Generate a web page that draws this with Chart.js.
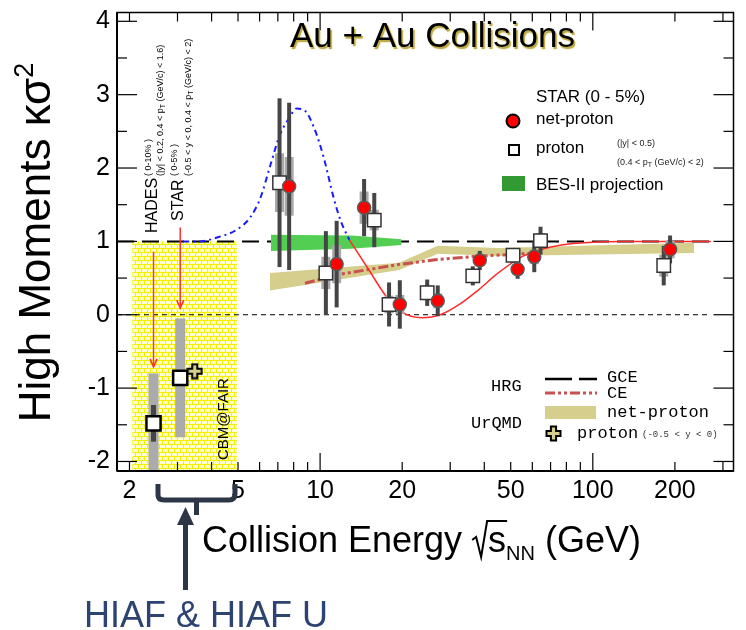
<!DOCTYPE html>
<html>
<head>
<meta charset="utf-8">
<title>High Moments vs Collision Energy</title>
<script src="https://cdn.jsdelivr.net/npm/chart.js@4.4.1/dist/chart.umd.min.js"></script>
<style>
  html, body { margin: 0; padding: 0; background: #fff; }
  canvas { display: block; }
</style>
</head>
<body>
<canvas id="chart" width="746" height="630"></canvas>
<script>
// values
const xTickLabels = [2, 5, 10, 20, 50, 100, 200]
const yTickLabels = [-2, -1, 0, 1, 2, 3, 4]
const xMajorTicks = [10, 100]
const xMinorTicks = [2, 3, 4, 5, 6, 7, 8, 9, 20, 30, 40, 50, 60, 70, 80, 90, 200, 300]
const yMinorTicks = [-1.5, -0.5, 0.5, 1.5, 2.5, 3.5]

// STAR net-proton (0-5%)
const netProtonEnergy = [7.7, 11.5, 14.5, 19.6, 27, 38.5, 53, 61, 192]
const netProtonK = [1.75, 0.69, 1.46, 0.14, 0.19, 0.74, 0.62, 0.79, 0.89]
const netProtonStat = [1.14, 0.59, 0.39, 0.33, 0.21, 0.13, 0.13, 0.21, 0.19]
const netProtonSys = [0.40, 0.26, 0.22, 0.13, 0.10, 0.07, 0.07, 0.10, 0.12]

// STAR proton
const protonEnergy = [7.1, 10.5, 15.8, 17.9, 24.7, 36.3, 51, 64.3, 182]
const protonK = [1.80, 0.57, 1.29, 0.14, 0.30, 0.53, 0.81, 1.01, 0.67]
const protonStat = [1.15, 0.57, 0.37, 0.30, 0.18, 0.13, 0.10, 0.19, 0.27]
const protonSys = [0.40, 0.22, 0.14, 0.12, 0.10, 0.08, 0.06, 0.10, 0.15]

// HADES 2.4 GeV and STAR 3 GeV proton
const fixedTargetEnergy = [2.45, 3.07]
const fixedTargetK = [-1.48, -0.86]
const fixedTargetStat = [0.25, 0.08]
const fixedTargetSys = [0.68, 0.81]

// UrQMD proton (-0.5 < y < 0)
const urqmdProtonEnergy = [3.47]
const urqmdProtonK = [-0.77]

// UrQMD net-proton band
const urqmdBandEnergy = [6.55, 19.5, 27, 45, 235]
const urqmdBandHigh = [0.57, 0.71, 0.94, 0.91, 0.98]
const urqmdBandLow = [0.33, 0.61, 0.83, 0.80, 0.84]

// BES-II projection band
const besEnergy = [6.6, 13, 19.9]
const besHigh = [1.09, 1.08, 1.03]
const besLow = [0.87, 0.90, 0.95]

// HRG GCE / CE
const gceEnergy = [1.8, 271]
const gceK = [1, 1]
const ceEnergy = [8.8, 11.8, 19, 26.5, 38, 50, 60]
const ceK = [0.43, 0.55, 0.68, 0.75, 0.80, 0.82, 0.84]

// model curves
const blueEnergy = [3.15, 3.6, 4.25, 4.9, 5.55, 6.05, 6.55, 7.1, 7.7, 8.2, 8.8, 9.5, 10.3, 11.2, 11.9, 12.8]
const blueK = [1.0, 1.0, 1.06, 1.15, 1.33, 1.6, 2.02, 2.44, 2.68, 2.81, 2.78, 2.55, 2.15, 1.6, 1.28, 1.02]
const redEnergy = [12.8, 15.1, 17.4, 19.9, 23.6, 27.6, 32.4, 38.1, 45, 55.5, 76.7, 131, 271]
const redK = [1.02, 0.61, 0.26, 0.04, -0.04, 0.0, 0.14, 0.34, 0.57, 0.80, 0.95, 1.0, 1.0]

const zeroEnergy = [1.8, 271]
const zeroK = [0, 0]

// CBM@FAIR region
const cbmRange = [2.05, 4.95]
const cbmTop = 1.0

const FONT = '"Liberation Sans", Arial, sans-serif'
const MONO = '"Liberation Mono", "Courier New", monospace'
const KHAKI = '#d6ce8c'

const pts = (xs, ys) => xs.map((x, i) => ({ x: x, y: ys[i] }))

function makeCross() {
  const c = document.createElement("canvas")
  c.width = 17
  c.height = 17
  const g = c.getContext("2d")
  const m = 8.5, a = 2.6, b = 7
  g.beginPath()
  g.moveTo(m - a, m - b); g.lineTo(m + a, m - b); g.lineTo(m + a, m - a); g.lineTo(m + b, m - a)
  g.lineTo(m + b, m + a); g.lineTo(m + a, m + a); g.lineTo(m + a, m + b); g.lineTo(m - a, m + b)
  g.lineTo(m - a, m + a); g.lineTo(m - b, m + a); g.lineTo(m - b, m - a); g.lineTo(m - a, m - a)
  g.closePath()
  g.fillStyle = KHAKI
  g.fill()
  g.lineWidth = 2
  g.strokeStyle = "#000"
  g.stroke()
  return c
}

function makeHatch() {
  const c = document.createElement("canvas")
  c.width = 12
  c.height = 8
  const g = c.getContext("2d")
  g.fillStyle = "#ffffc8"
  g.fillRect(0, 0, 12, 8)
  g.fillStyle = "#f4ee00"
  g.fillRect(0, 0, 12, 1)
  g.fillRect(0, 4, 12, 1)
  g.fillRect(0, 0, 1, 4)
  g.fillRect(6, 0, 1, 4)
  g.fillRect(3, 4, 1, 4)
  g.fillRect(9, 4, 1, 4)
  return c
}

const crossImg = makeCross()

// background: hatched CBM@FAIR region
const cbmRegion = {
  id: "cbmRegion",
  beforeDatasetsDraw(chart) {
    const { ctx, chartArea: a, scales: { x, y } } = chart
    const x0 = x.getPixelForValue(cbmRange[0])
    const x1 = x.getPixelForValue(cbmRange[1])
    const y0 = y.getPixelForValue(cbmTop)
    ctx.save()
    ctx.fillStyle = ctx.createPattern(makeHatch(), "repeat")
    ctx.fillRect(x0, y0, x1 - x0, a.bottom - y0)
    ctx.restore()
  },
}

// stat / sys error bars, drawn right before the first marker dataset
const errorBars = {
  id: "errorBars",
  beforeDatasetsDraw(chart) {
    chart.$barsDone = false
  },
  beforeDatasetDraw(chart, args) {
    if (chart.$barsDone || !chart.data.datasets[args.index].stat) return
    chart.$barsDone = true
    const { ctx, chartArea: a, scales: { x, y } } = chart
    const withBars = chart.data.datasets.filter((d) => d.stat)
    ctx.save()
    ctx.beginPath()
    ctx.rect(a.left, a.top, a.width, a.height)
    ctx.clip()
    withBars.forEach((ds) => {
      ds.data.forEach((p, i) => {
        const cx = x.getPixelForValue(p.x)
        const t = y.getPixelForValue(p.y + ds.sys[i])
        const b = y.getPixelForValue(p.y - ds.sys[i])
        ctx.fillStyle = ds.sysColor
        ctx.fillRect(cx - ds.sysWidth / 2, t, ds.sysWidth, b - t)
      })
    })
    withBars.forEach((ds) => {
      ds.data.forEach((p, i) => {
        const cx = x.getPixelForValue(p.x)
        const t = y.getPixelForValue(p.y + ds.stat[i])
        const b = y.getPixelForValue(p.y - ds.stat[i])
        ctx.fillStyle = "#454545"
        ctx.fillRect(cx - ds.statWidth / 2, t, ds.statWidth, b - t)
      })
    })
    ctx.restore()
  },
}

function runs(ctx, segs, x, y) {
  let cx = x
  segs.forEach((s) => {
    ctx.font = s.f
    ctx.fillText(s.t, cx, y + (s.dy || 0))
    cx += ctx.measureText(s.t).width
  })
  return cx
}

function rotRuns(ctx, segs, x, y) {
  ctx.save()
  ctx.translate(x, y)
  ctx.rotate(-Math.PI / 2)
  runs(ctx, segs, 0, 0)
  ctx.restore()
}

function line(ctx, x0, y0, x1, y1) {
  ctx.beginPath()
  ctx.moveTo(x0, y0)
  ctx.lineTo(x1, y1)
  ctx.stroke()
}

// frame, inward ticks, annotations, legends and titles
const overlay = {
  id: "overlay",
  afterDraw(chart) {
    const { ctx, chartArea: a, scales: { x, y } } = chart
    ctx.save()
    ctx.textAlign = "left"
    ctx.textBaseline = "alphabetic"

    // red arrows and rotated labels for HADES / STAR
    const hx = x.getPixelForValue(fixedTargetEnergy[0])
    const sx = x.getPixelForValue(fixedTargetEnergy[1])
    ctx.strokeStyle = "#ff3030"
    ctx.lineWidth = 1.5
    ;[[hx, 0.86, -0.71], [sx, 1.19, 0.09]].forEach(([ax, k0, k1]) => {
      const y0 = y.getPixelForValue(k0)
      const y1 = y.getPixelForValue(k1)
      line(ctx, ax, y0, ax, y1)
      ctx.beginPath()
      ctx.moveTo(ax - 3.5, y1 - 8)
      ctx.lineTo(ax, y1)
      ctx.lineTo(ax + 3.5, y1 - 8)
      ctx.stroke()
    })
    ctx.fillStyle = "#000"
    const small = "9px " + FONT
    const tiny = "7px " + FONT
    rotRuns(ctx, [{ t: "HADES", f: "16px " + FONT }], hx + 3, 233)
    rotRuns(ctx, [{ t: "( 0-10% )", f: small }], hx - 3, 176)
    rotRuns(ctx, [
      { t: "(|y| < 0.2, 0.4 < p", f: small },
      { t: "T", f: tiny, dy: 2 },
      { t: " (GeV/c) < 1.6)", f: small },
    ], hx + 9, 176)
    rotRuns(ctx, [{ t: "STAR", f: "16px " + FONT }], sx + 3, 221)
    rotRuns(ctx, [{ t: "( 0-5% )", f: small }], sx - 3, 176)
    rotRuns(ctx, [
      { t: "(-0.5 < y < 0, 0.4 < p", f: small },
      { t: "T", f: tiny, dy: 2 },
      { t: " (GeV/c) < 2)", f: small },
    ], sx + 11, 176)
    rotRuns(ctx, [{ t: "CBM@FAIR", f: "15px " + FONT }], 228, 460)

    // frame and ticks
    ctx.strokeStyle = "#000"
    ctx.lineWidth = 1.5
    ctx.strokeRect(a.left, a.top, a.width, a.height)
    ctx.lineWidth = 2
    line(ctx, a.left, a.bottom, a.right, a.bottom)
    line(ctx, a.left, a.top, a.left, a.bottom)
    ctx.lineWidth = 1.2
    const xt = (v, len) => {
      const p = x.getPixelForValue(v)
      line(ctx, p, a.bottom, p, a.bottom - len)
      line(ctx, p, a.top, p, a.top + len)
    }
    const yt = (v, len) => {
      const p = y.getPixelForValue(v)
      line(ctx, a.left, p, a.left + len, p)
      line(ctx, a.right, p, a.right - len, p)
    }
    xMinorTicks.forEach((v) => xt(v, 9))
    xMajorTicks.forEach((v) => xt(v, 18))
    yMinorTicks.forEach((v) => yt(v, 10))
    yTickLabels.forEach((v) => yt(v, 20))

    // title
    ctx.font = "35px " + FONT
    ctx.save()
    ctx.fillStyle = "rgba(185,165,60,0.85)"
    ctx.shadowColor = "rgba(200,180,70,0.9)"
    ctx.shadowBlur = 2
    ctx.fillText("Au + Au Collisions", 291.5, 48.5)
    ctx.restore()
    ctx.fillStyle = "#000"
    ctx.fillText("Au + Au Collisions", 290, 47)

    // STAR legend
    ctx.font = "17px " + FONT
    ctx.fillText("STAR (0 - 5%)", 536, 102)
    ctx.beginPath()
    ctx.arc(513, 121, 6.5, 0, Math.PI * 2)
    ctx.fillStyle = "#ff0000"
    ctx.fill()
    ctx.lineWidth = 2
    ctx.strokeStyle = "#000"
    ctx.stroke()
    ctx.fillStyle = "#fff"
    ctx.fillRect(509, 145, 10, 10)
    ctx.strokeRect(509, 145, 10, 10)
    ctx.fillStyle = "#000"
    ctx.fillText("net-proton", 536, 124)
    ctx.fillText("proton", 536, 153)
    ctx.fillText("BES-II projection", 536, 190)
    ctx.fillStyle = "#339933"
    ctx.fillRect(502, 176, 23, 15)
    ctx.fillStyle = "#222"
    ctx.font = small
    ctx.fillText("(|y| < 0.5)", 617, 146)
    runs(ctx, [
      { t: "(0.4 < p", f: small },
      { t: "T", f: tiny, dy: 2 },
      { t: " (GeV/c) < 2)", f: small },
    ], 617, 165)

    // HRG / UrQMD legend
    ctx.fillStyle = "#000"
    ctx.font = "17px " + MONO
    ctx.fillText("HRG", 491, 391)
    ctx.fillText("UrQMD", 471, 428)
    ctx.fillText("GCE", 607, 382)
    ctx.fillText("CE", 607, 398)
    ctx.fillText("net-proton", 607, 417)
    ctx.fillText("proton", 577, 438)
    ctx.font = "9px " + MONO
    ctx.fillStyle = "#333"
    ctx.fillText("(-0.5 < y < 0)", 642, 437)
    ctx.strokeStyle = "#000"
    ctx.lineWidth = 2.5
    ctx.setLineDash([27, 7])
    line(ctx, 545, 379, 597, 379)
    ctx.strokeStyle = "#c8504f"
    ctx.lineWidth = 3
    ctx.setLineDash([10, 3, 3, 3, 3, 3])
    line(ctx, 545, 393, 597, 393)
    ctx.setLineDash([])
    ctx.fillStyle = KHAKI
    ctx.fillRect(545, 406, 51, 13)
    ctx.drawImage(crossImg, 545, 425)

    // axis titles
    ctx.fillStyle = "#000"
    ctx.font = "44px " + FONT
    const yTitle = "High Moments \u03ba\u03c3"
    const yw = ctx.measureText(yTitle).width + 14
    rotRuns(ctx, [
      { t: yTitle, f: "44px " + FONT },
      { t: "2", f: "27px " + FONT, dy: -17 },
    ], 50, 243 + yw / 2)

    const base = 552
    ctx.font = "36px " + FONT
    let cx = 202
    ctx.fillText("Collision Energy ", cx, base)
    cx += ctx.measureText("Collision Energy ").width
    const sw = ctx.measureText("s").width
    ctx.strokeStyle = "#000"
    ctx.lineWidth = 2
    ctx.beginPath()
    ctx.moveTo(cx, base - 12)
    ctx.lineTo(cx + 4, base - 15)
    ctx.lineTo(cx + 9, base + 5)
    ctx.lineTo(cx + 15, base - 31)
    ctx.lineTo(cx + 17 + sw, base - 31)
    ctx.stroke()
    cx += 16
    ctx.fillText("s", cx, base)
    cx += sw
    ctx.font = "20px " + FONT
    ctx.fillText("NN", cx, base + 8)
    cx += ctx.measureText("NN").width
    ctx.font = "36px " + FONT
    ctx.fillText(" (GeV)", cx, base)

    // bracket + arrow to HIAF
    ctx.strokeStyle = "#2c3646"
    ctx.fillStyle = "#2c3646"
    ctx.lineWidth = 5
    ctx.lineJoin = "round"
    ctx.beginPath()
    ctx.moveTo(158, 484)
    ctx.lineTo(158, 495)
    ctx.quadraticCurveTo(158, 500, 164, 500)
    ctx.lineTo(229, 500)
    ctx.quadraticCurveTo(235, 500, 235, 494)
    ctx.lineTo(235, 484)
    ctx.stroke()
    ctx.beginPath()
    ctx.moveTo(196.5, 500)
    ctx.lineTo(196.5, 515)
    ctx.stroke()
    ctx.beginPath()
    ctx.moveTo(185.5, 590)
    ctx.lineTo(185.5, 520)
    ctx.stroke()
    ctx.beginPath()
    ctx.moveTo(185.5, 507)
    ctx.lineTo(194, 525)
    ctx.lineTo(177, 525)
    ctx.closePath()
    ctx.fill()

    ctx.fillStyle = "#2d4371"
    ctx.font = "36px " + FONT
    ctx.fillText("HIAF & HIAF U", 84, 627)

    ctx.restore()
  },
}

const datasets = [
  {
    label: "net-proton",
    data: pts(netProtonEnergy, netProtonK),
    stat: netProtonStat,
    sys: netProtonSys,
    statWidth: 4,
    sysWidth: 9,
    sysColor: "#a8a8a8",
    showLine: false,
    pointStyle: "circle",
    pointRadius: 6.5,
    pointBackgroundColor: "#ff0000",
    pointBorderColor: "#5a5a5a",
    pointBorderWidth: 1.5,
    order: 1,
  },
  {
    label: "UrQMD proton",
    data: pts(urqmdProtonEnergy, urqmdProtonK),
    showLine: false,
    pointStyle: crossImg,
    order: 1,
  },
  {
    label: "proton",
    data: pts(protonEnergy, protonK),
    stat: protonStat,
    sys: protonSys,
    statWidth: 4,
    sysWidth: 9,
    sysColor: "#a8a8a8",
    showLine: false,
    pointStyle: "rect",
    pointRadius: 9.5,
    pointBackgroundColor: "#ffffff",
    pointBorderColor: "#333333",
    pointBorderWidth: 1.5,
    order: 2,
  },
  {
    label: "HADES / STAR FXT",
    data: pts(fixedTargetEnergy, fixedTargetK),
    stat: fixedTargetStat,
    sys: fixedTargetSys,
    statWidth: 5,
    sysWidth: 10,
    sysColor: "#ababab",
    showLine: false,
    pointStyle: "rect",
    pointRadius: 10,
    pointBackgroundColor: "#ffffff",
    pointBorderColor: "#000000",
    pointBorderWidth: 2.5,
    order: 2,
  },
  {
    label: "red model",
    data: pts(redEnergy, redK),
    borderColor: "#ff2a2a",
    borderWidth: 1.5,
    cubicInterpolationMode: "monotone",
    pointRadius: 0,
    order: 5,
  },
  {
    label: "blue model",
    data: pts(blueEnergy, blueK),
    borderColor: "#1a1aff",
    borderWidth: 2,
    borderDash: [6, 4, 2, 4],
    cubicInterpolationMode: "monotone",
    pointRadius: 0,
    order: 5,
  },
  {
    label: "HRG CE",
    data: pts(ceEnergy, ceK),
    borderColor: "#c8504f",
    borderWidth: 3,
    borderDash: [10, 3, 3, 3, 3, 3],
    pointRadius: 0,
    order: 6,
  },
  {
    label: "BES-II low",
    data: pts(besEnergy, besLow),
    borderWidth: 0,
    pointRadius: 0,
    order: 7,
  },
  {
    label: "BES-II projection",
    data: pts(besEnergy, besHigh),
    borderWidth: 0,
    pointRadius: 0,
    fill: "-1",
    backgroundColor: "#52cf52",
    order: 7,
  },
  {
    label: "UrQMD low",
    data: pts(urqmdBandEnergy, urqmdBandLow),
    borderWidth: 0,
    pointRadius: 0,
    order: 8,
  },
  {
    label: "UrQMD net-proton",
    data: pts(urqmdBandEnergy, urqmdBandHigh),
    borderWidth: 0,
    pointRadius: 0,
    fill: "-1",
    backgroundColor: KHAKI,
    order: 8,
  },
  {
    label: "HRG GCE",
    data: pts(gceEnergy, gceK),
    borderColor: "#000",
    borderWidth: 2,
    borderDash: [17, 8],
    pointRadius: 0,
    order: 9,
  },
  {
    label: "zero",
    data: pts(zeroEnergy, zeroK),
    borderColor: "#000",
    borderWidth: 1,
    borderDash: [5, 4],
    pointRadius: 0,
    order: 9,
  },
]

new Chart(document.getElementById("chart"), {
  type: "line",
  data: { datasets: datasets },
  options: {
    responsive: false,
    animation: false,
    devicePixelRatio: 1,
    events: [],
    layout: { padding: { top: 5, right: 3, left: 0, bottom: 0 } },
    plugins: {
      legend: { display: false },
      tooltip: { enabled: false },
    },
    scales: {
      x: {
        type: "logarithmic",
        min: 1.8,
        max: 328,
        grid: { display: false, drawTicks: false },
        border: { display: false },
        ticks: {
          autoSkip: false,
          maxRotation: 0,
          padding: 5,
          color: "#000",
          font: { family: FONT, size: 25 },
          callback: (v) => String(v),
        },
        afterBuildTicks: (s) => {
          s.ticks = xTickLabels.map((v) => ({ value: v }))
        },
        afterFit: (s) => {
          s.height = 159
          s.paddingLeft = 0
          s.paddingRight = 0
        },
      },
      y: {
        type: "linear",
        min: -2.13,
        max: 4.12,
        grid: { display: false, drawTicks: false },
        border: { display: false },
        ticks: {
          padding: 7,
          color: "#000",
          font: { family: FONT, size: 25 },
        },
        afterBuildTicks: (s) => {
          s.ticks = yTickLabels.map((v) => ({ value: v }))
        },
        afterFit: (s) => {
          s.width = 117
          s.paddingTop = 0
          s.paddingBottom = 0
        },
      },
    },
  },
  plugins: [cbmRegion, errorBars, overlay],
})
</script>
</body>
</html>
